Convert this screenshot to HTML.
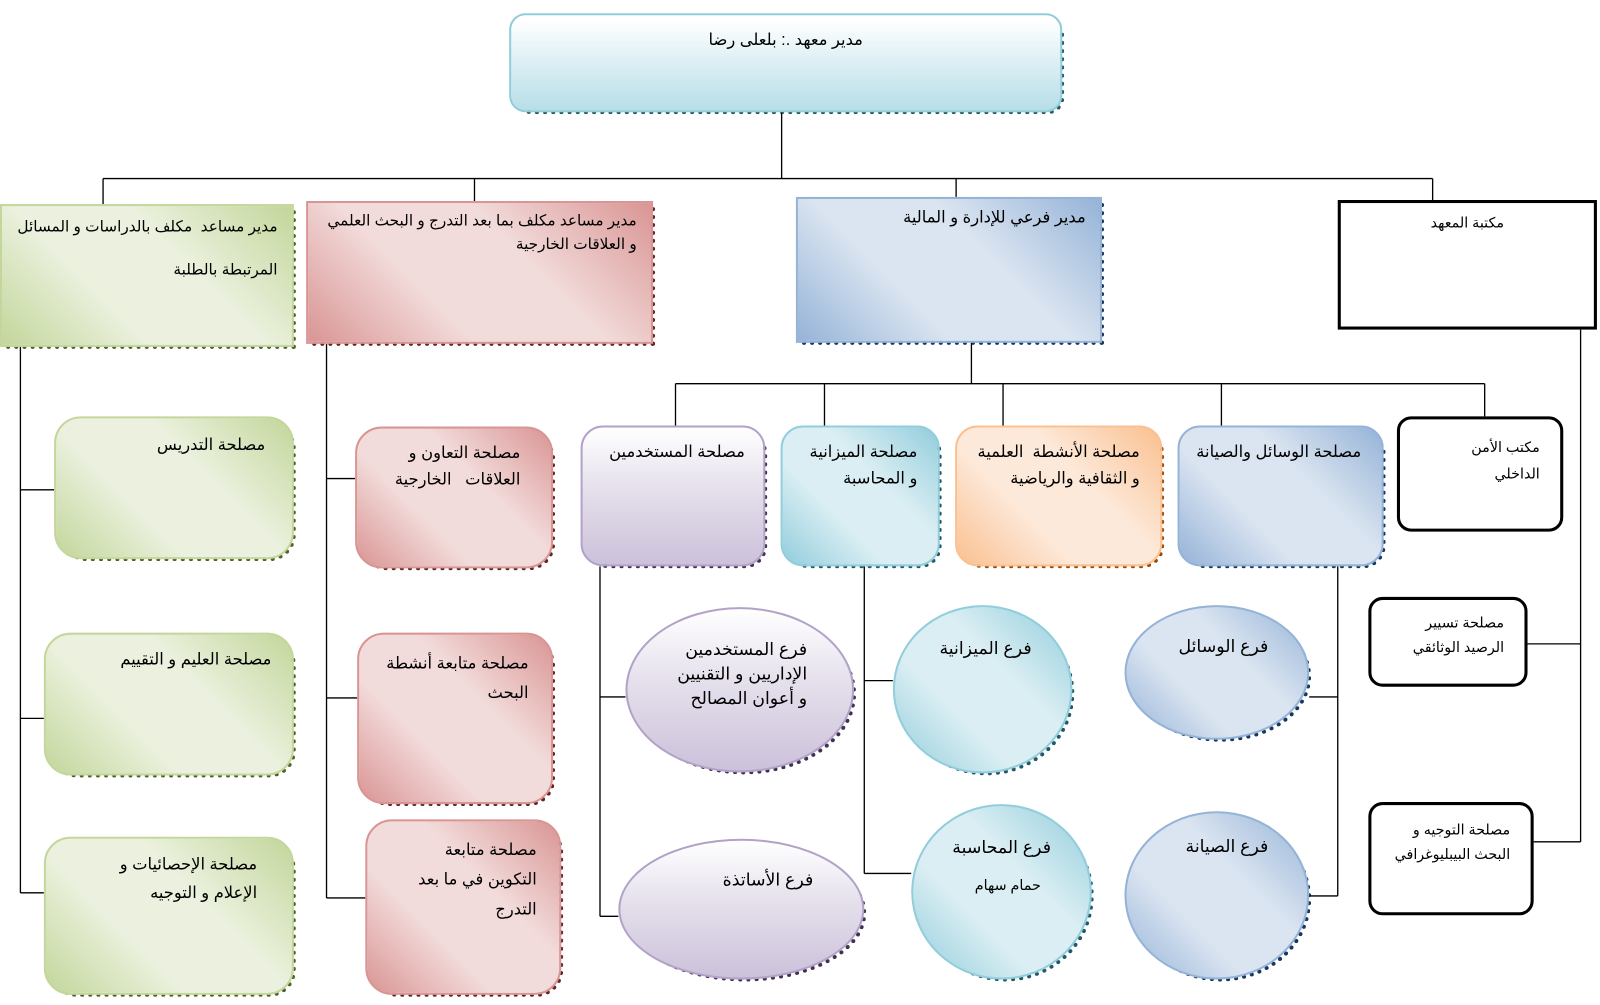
<!DOCTYPE html>
<html><head><meta charset="utf-8">
<style>
html,body{margin:0;padding:0;background:#fff;width:1600px;height:1005px;overflow:hidden}
#c{position:absolute;left:0;top:0;width:1568px;height:985px;transform:scale(1.0204);transform-origin:0 0;font-family:"Liberation Sans","DejaVu Sans",sans-serif;font-size:16px;color:#000}
.n{position:absolute;box-sizing:border-box;direction:rtl;text-align:right;line-height:26px;padding:8px 22px 0 6px;white-space:nowrap}
.n::after{content:"";position:absolute;left:4px;top:4px;right:-4px;bottom:-4px;border-right:4px dotted var(--d);border-bottom:4px dotted var(--d);border-radius:inherit;z-index:-1}
.g{background:linear-gradient(45deg,#c3d69b 0%,#ebf1de 35%,#ebf1de 62%,#c3d69b 100%);border:2px solid #c3d69b;--d:#4f6228}
.p{background:linear-gradient(45deg,#d99594 0%,#f2dcdb 35%,#f2dcdb 62%,#d99594 100%);border:2px solid #d99594;--d:#632523}
.b{background:linear-gradient(45deg,#95b3d7 0%,#dbe5f1 35%,#dbe5f1 62%,#95b3d7 100%);border:2px solid #95b3d7;--d:#17375e}
.cy{background:linear-gradient(45deg,#92cddc 0%,#daeef3 35%,#daeef3 62%,#92cddc 100%);border:2px solid #92cddc;--d:#215967}
.o{background:linear-gradient(45deg,#fac090 0%,#fde9d9 35%,#fde9d9 62%,#fac090 100%);border:2px solid #fac090;--d:#984807}
.pu{background:linear-gradient(180deg,#fff 0%,#e5e0ec 45%,#ccc1da 100%);border:2px solid #b3a2c7;--d:#3f3151}
.k{background:#fff;border:3px solid #000;border-radius:14px}
.k::after{display:none}
.e{border-radius:50%}
svg{position:absolute;left:0;top:0}
</style></head><body><div id="c">
<svg width="1568" height="985" stroke="#000" stroke-width="1.3" fill="none">
<path d="M766 110V175M101 175H1404M101 175V200M465 175V197M937 175V193M1404 175V196"/>
<path d="M952 336V376M662 376H1455M662 376V418M808 376V417M983 376V417M1197 376V417M1455 376V408"/>
<path d="M20 340V875M20 480H53M20 704H43M20 875H43"/>
<path d="M320 337V880M320 469H348M320 684H350M320 880H358"/>
<path d="M588 555V898M588 683H613M588 898H606"/>
<path d="M847 555V856M847 667H875M847 856H893"/>
<path d="M1311 555V878M1311 683H1283M1311 878H1283"/>
<path d="M1549 323V825M1549 631H1497M1549 825H1503"/>
</svg>
<div class="n" style="left:499px;top:13px;width:542px;height:97px;border-radius:16px;background:linear-gradient(180deg,#fff 5%,#dceff4 50%,#b7dee8 100%);border:2px solid #92cddc;--d:#215967;text-align:center;padding:12px 0 0">مدير معهد .: بلعلى رضا</div>

<div class="n g" style="left:0;top:200px;width:288px;height:140px;line-height:42px;padding:0 14px 0 0;font-size:15px">مدير مساعد&nbsp; مكلف بالدراسات و المسائل<br>المرتبطة بالطلبة</div>
<div class="n p" style="left:300px;top:197px;width:340px;height:140px;line-height:23px;padding:6px 14px 0 0;font-size:15px">مدير مساعد مكلف بما بعد التدرج و البحث العلمي<br>و العلاقات الخارجية</div>
<div class="n b" style="left:780px;top:193px;width:300px;height:143px;padding:6px 14px 0 0">مدير فرعي للإدارة و المالية</div>
<div class="n k" style="left:1311px;top:196px;width:254px;height:127px;border-radius:0;text-align:center;font-size:14px;padding:6px 0 0">مكتبة المعهد</div>

<div class="n g" style="left:53px;top:408px;width:235px;height:140px;border-radius:26px;padding:14px 26px 0 0">مصلحة التدريس</div>
<div class="n g" style="left:43px;top:620px;width:245px;height:140px;border-radius:26px;padding:12px 20px 0 0">مصلحة العليم و التقييم</div>
<div class="n g" style="left:43px;top:820px;width:245px;height:155px;border-radius:26px;padding:12px 34px 0 0;line-height:28px">مصلحة الإحصائيات و<br>الإعلام و التوجيه</div>

<div class="n p" style="left:348px;top:418px;width:194px;height:139px;border-radius:26px;padding:12px 30px 0 0">مصلحة التعاون و<br>العلاقات&nbsp;&nbsp; الخارجية</div>
<div class="n p" style="left:350px;top:620px;width:192px;height:168px;border-radius:26px;padding:14px 22px 0 0;line-height:29px">مصلحة متابعة أنشطة<br>البحث</div>
<div class="n p" style="left:358px;top:803px;width:192px;height:172px;border-radius:26px;padding:14px 22px 0 0;line-height:29px">مصلحة متابعة<br>التكوين في ما بعد<br>التدرج</div>

<div class="n pu" style="left:569px;top:417px;width:181px;height:138px;border-radius:22px;padding:12px 18px 0 0">مصلحة المستخدمين</div>
<div class="n cy" style="left:765px;top:417px;width:156px;height:138px;border-radius:22px;padding:12px 20px 0 0">مصلحة الميزانية<br>و المحاسبة</div>
<div class="n o" style="left:936px;top:417px;width:203px;height:138px;border-radius:22px;padding:12px 20px 0 0">مصلحة الأنشطة&nbsp; العلمية<br>و الثقافية والرياضية</div>
<div class="n b" style="left:1154px;top:417px;width:202px;height:138px;border-radius:22px;padding:12px 20px 0 0">مصلحة الوسائل والصيانة</div>
<div class="n k" style="left:1369px;top:408px;width:163px;height:113px;padding:14px 20px 0 0;font-size:14px">مكتب الأمن<br>الداخلي</div>
<div class="n k" style="left:1341px;top:585px;width:156px;height:88px;padding:10px 20px 0 0;font-size:14px;line-height:24px">مصلحة تسيير<br>الرصيد الوثائقي</div>
<div class="n k" style="left:1341px;top:786px;width:162px;height:111px;padding:12px 20px 0 0;font-size:14px;line-height:24px">مصلحة التوجيه و<br>البحث البيبليوغرافي</div>

<div class="n pu e" style="left:613px;top:595px;width:224px;height:162px;padding:28px 44px 0 0;line-height:24px;font-size:17px">فرع المستخدمين<br>الإداريين و التقنيين<br>و أعوان المصالح</div>
<div class="n pu e" style="left:606px;top:822px;width:241px;height:138px;padding:26px 48px 0 0;font-size:17px">فرع الأساتذة</div>
<div class="n cy e" style="left:875px;top:593px;width:176px;height:165px;padding:28px 38px 0 0;font-size:17px">فرع الميزانية</div>
<div class="n cy e" style="left:893px;top:788px;width:177px;height:172px;padding:28px 38px 0 0;font-size:17px">فرع المحاسبة<div style="font-size:14px;margin:10px 10px 0 0">حمام سهام</div></div>
<div class="n b e" style="left:1102px;top:593px;width:181px;height:132px;padding:26px 38px 0 0;font-size:17px">فرع الوسائل</div>
<div class="n b e" style="left:1102px;top:795px;width:181px;height:165px;padding:20px 38px 0 0;font-size:17px">فرع الصيانة</div>
</div></body></html>
